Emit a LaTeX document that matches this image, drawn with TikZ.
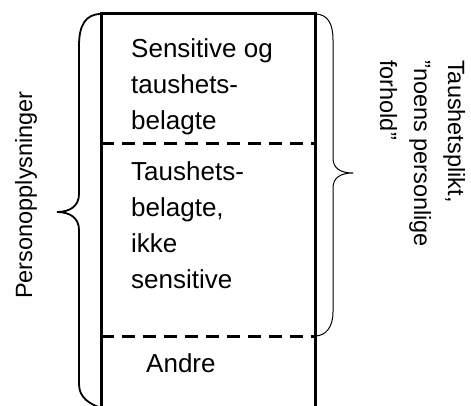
\documentclass[tikz,border=0pt]{standalone}
\usepackage{fontspec}
\setmainfont{Liberation Sans}
\begin{document}
\begin{tikzpicture}[x=1pt,y=-1pt,
  frame/.style={line width=3pt},
  divider/.style={line width=3pt,dash pattern=on 13pt off 8pt},
  bracel/.style={line width=1.8pt},
  bracer/.style={line width=1pt},
  inner/.style={font=\fontsize{26}{36}\selectfont,align=left,inner sep=0pt},
  side/.style={font=\fontsize{23.5}{34}\selectfont,align=left,inner sep=0pt}]
\useasboundingbox (0,0) rectangle (471,406);

% frame corners
\coordinate (tl) at (101,14);
\coordinate (tr) at (315,14);
\coordinate (bl) at (101,410);
\coordinate (br) at (315,410);
\coordinate (d1l) at (101,144);
\coordinate (d1r) at (315,144);
\coordinate (d2l) at (101,336);
\coordinate (d2r) at (315,336);

% the column
\draw[frame] (bl) -- (tl) -- (tr) -- (br);
\draw[divider] (d1l) -- (d1r);
\draw[divider] (d2l) -- (d2r);

% texts inside the column (anchored at the baseline of their last line)
\node[inner,anchor=base west] (s1) at (131,130) {Sensitive og\\taushets-\\belagte};
\node[inner,anchor=base west] (s2) at (131,288) {Taushets-\\belagte,\\ikke\\sensitive};
\node[inner,anchor=base west] (s3) at (146,372) {Andre};

% left brace
\draw[bracel] (tl) .. controls (85,14) and (79,26) .. (79,46)
  -- (79,194) .. controls (79,206) and (70,212) .. (57,212)
  .. controls (70,212) and (79,218) .. (79,230)
  -- (79,384) .. controls (79,398) and (90,404) .. (101,408);

% right brace
\draw[bracer] (tr) .. controls (328,14) and (333,24) .. (333,40)
  -- (333,158) .. controls (333,168) and (340,173) .. (353,173)
  .. controls (340,173) and (333,178) .. (333,188)
  -- (333,312) .. controls (333,328) and (325,336) .. (d2r);

% side labels
\node[side,rotate=90,anchor=base] (pl) at (32,195) {Personopplysninger};
\node[side,rotate=-90,anchor=base west] (tp) at (380,60)
  {Taushetsplikt,\\”noens personlige\\forhold”};
\end{tikzpicture}
\end{document}
